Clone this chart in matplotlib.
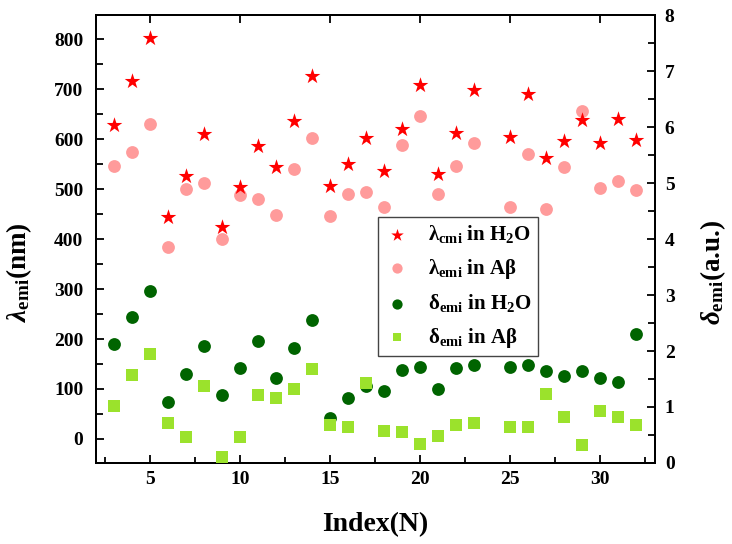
import numpy as np
import matplotlib
matplotlib.use('Agg')
from matplotlib import pyplot as plt
from matplotlib.ticker import MultipleLocator

plt.rcParams['font.family'] = 'Liberation Serif'
plt.rcParams['font.weight'] = 'bold'
plt.rcParams['mathtext.fontset'] = 'custom'
plt.rcParams['mathtext.rm'] = 'Liberation Serif:bold'
plt.rcParams['mathtext.it'] = 'Liberation Serif:italic:bold'
plt.rcParams['mathtext.bf'] = 'Liberation Serif:bold'

# index N (no point at 24)
idx = [3, 4, 5, 6, 7, 8, 9, 10, 11, 12, 13, 14, 15, 16, 17, 18, 19, 20, 21, 22,
       23, 25, 26, 27, 28, 29, 30, 31, 32]

# emission wavelength (nm), left axis
lam_h2o = [628, 716, 802, 445, 526, 610, 424, 504, 586, 545, 636, 727, 506, 551,
           602, 536, 620, 708, 530, 612, 699, 604, 690, 562, 596, 638, 592, 640, 599]
lam_ab = [546, 574, 630, 385, 500, 512, 400, 488, 481, 448, 540, 602, 446, 490,
          494, 464, 588, 646, 490, 546, 592, 464, 570, 460, 544, 656, 502, 516, 498]

# delta emission (a.u.), right axis
dl_h2o = [2.12, 2.61, 3.07, 1.09, 1.59, 2.09, 1.21, 1.70, 2.18, 1.52, 2.05, 2.55,
          0.80, 1.16, 1.37, 1.29, 1.66, 1.71, 1.32, 1.70, 1.75, 1.71, 1.75, 1.64,
          1.55, 1.64, 1.52, 1.45, 2.30]
dl_ab = [1.02, 1.57, 1.95, 0.71, 0.46, 1.37, 0.11, 0.46, 1.21, 1.16, 1.32, 1.68,
         0.68, 0.64, 1.43, 0.57, 0.55, 0.34, 0.48, 0.68, 0.71, 0.64, 0.64, 1.23,
         0.82, 0.32, 0.93, 0.82, 0.68]

fig = plt.figure(figsize=(7.32, 5.44), dpi=100)
ax = fig.add_axes([0.131, 0.149, 0.764, 0.823])
ax2 = ax.twinx()

h1 = ax.scatter(idx, lam_h2o, marker='*', s=140, color='#FF0000', lw=0, zorder=3,
                label=r'$\mathrm{\lambda_{cmi}}$ in H$_\mathrm{2}$O')
h2 = ax.scatter(idx, lam_ab, marker='o', s=85, color='#FF9B9B', lw=0, zorder=2,
                label=r'$\mathrm{\lambda_{emi}}$ in A$\mathrm{\beta}$')
h3 = ax2.scatter(idx, dl_h2o, marker='o', s=85, color='#006400', lw=0, zorder=2,
                 label=r'$\mathrm{\delta_{emi}}$ in H$_\mathrm{2}$O')
h4 = ax2.scatter(idx, dl_ab, marker='s', s=65, color='#9BE22C', lw=0, zorder=3,
                 label=r'$\mathrm{\delta_{emi}}$ in A$\mathrm{\beta}$')

ax.set_xlim(2, 33.05)
ax.set_ylim(-48, 848)
ax2.set_ylim(0, 8)

ax.xaxis.set_major_locator(MultipleLocator(5))
ax.xaxis.set_minor_locator(MultipleLocator(2.5))
ax.yaxis.set_major_locator(MultipleLocator(100))
ax.yaxis.set_minor_locator(MultipleLocator(50))
ax2.yaxis.set_major_locator(MultipleLocator(1))
ax2.yaxis.set_minor_locator(MultipleLocator(0.5))

ax.tick_params(axis='both', which='both', direction='in', labelsize=14, width=1.3)
ax.tick_params(axis='x', which='major', top=True, length=6, pad=6)
ax.tick_params(axis='x', which='minor', top=False, length=4)
ax.tick_params(axis='y', which='major', length=6, pad=9)
ax.tick_params(axis='y', which='minor', length=5)
ax2.tick_params(axis='y', which='both', direction='in', labelsize=14, width=1.3)
ax2.tick_params(axis='y', which='major', length=6, pad=7)
ax2.tick_params(axis='y', which='minor', length=5)

for a in (ax, ax2):
    for sp in a.spines.values():
        sp.set_linewidth(1.4)

ax.set_xlabel('Index(N)', fontsize=20, fontweight='bold', labelpad=17)
ax.set_ylabel(r'$\lambda_{\mathrm{emi}}$(nm)', fontsize=19.5, fontweight='bold')
ax2.set_ylabel(r'$\delta_{\mathrm{emi}}$(a.u.)', fontsize=19.5, fontweight='bold')
ax.yaxis.set_label_coords(-0.11, 0.426)
ax2.yaxis.set_label_coords(1.077, 0.426)

leg = ax.legend(handles=[h1, h2, h3, h4], loc='upper left',
                bbox_to_anchor=(0.504, 0.549), borderaxespad=0, frameon=True,
                fancybox=False, edgecolor='#444444', framealpha=1,
                handlelength=1.2, handletextpad=0.9, labelspacing=0.55,
                borderpad=0.3, markerscale=0.8,
                prop={'family': 'Liberation Serif', 'weight': 'bold', 'size': 15})
leg.get_frame().set_linewidth(1.0)
leg.set_zorder(10)

fig.savefig('out.png', dpi=100)
